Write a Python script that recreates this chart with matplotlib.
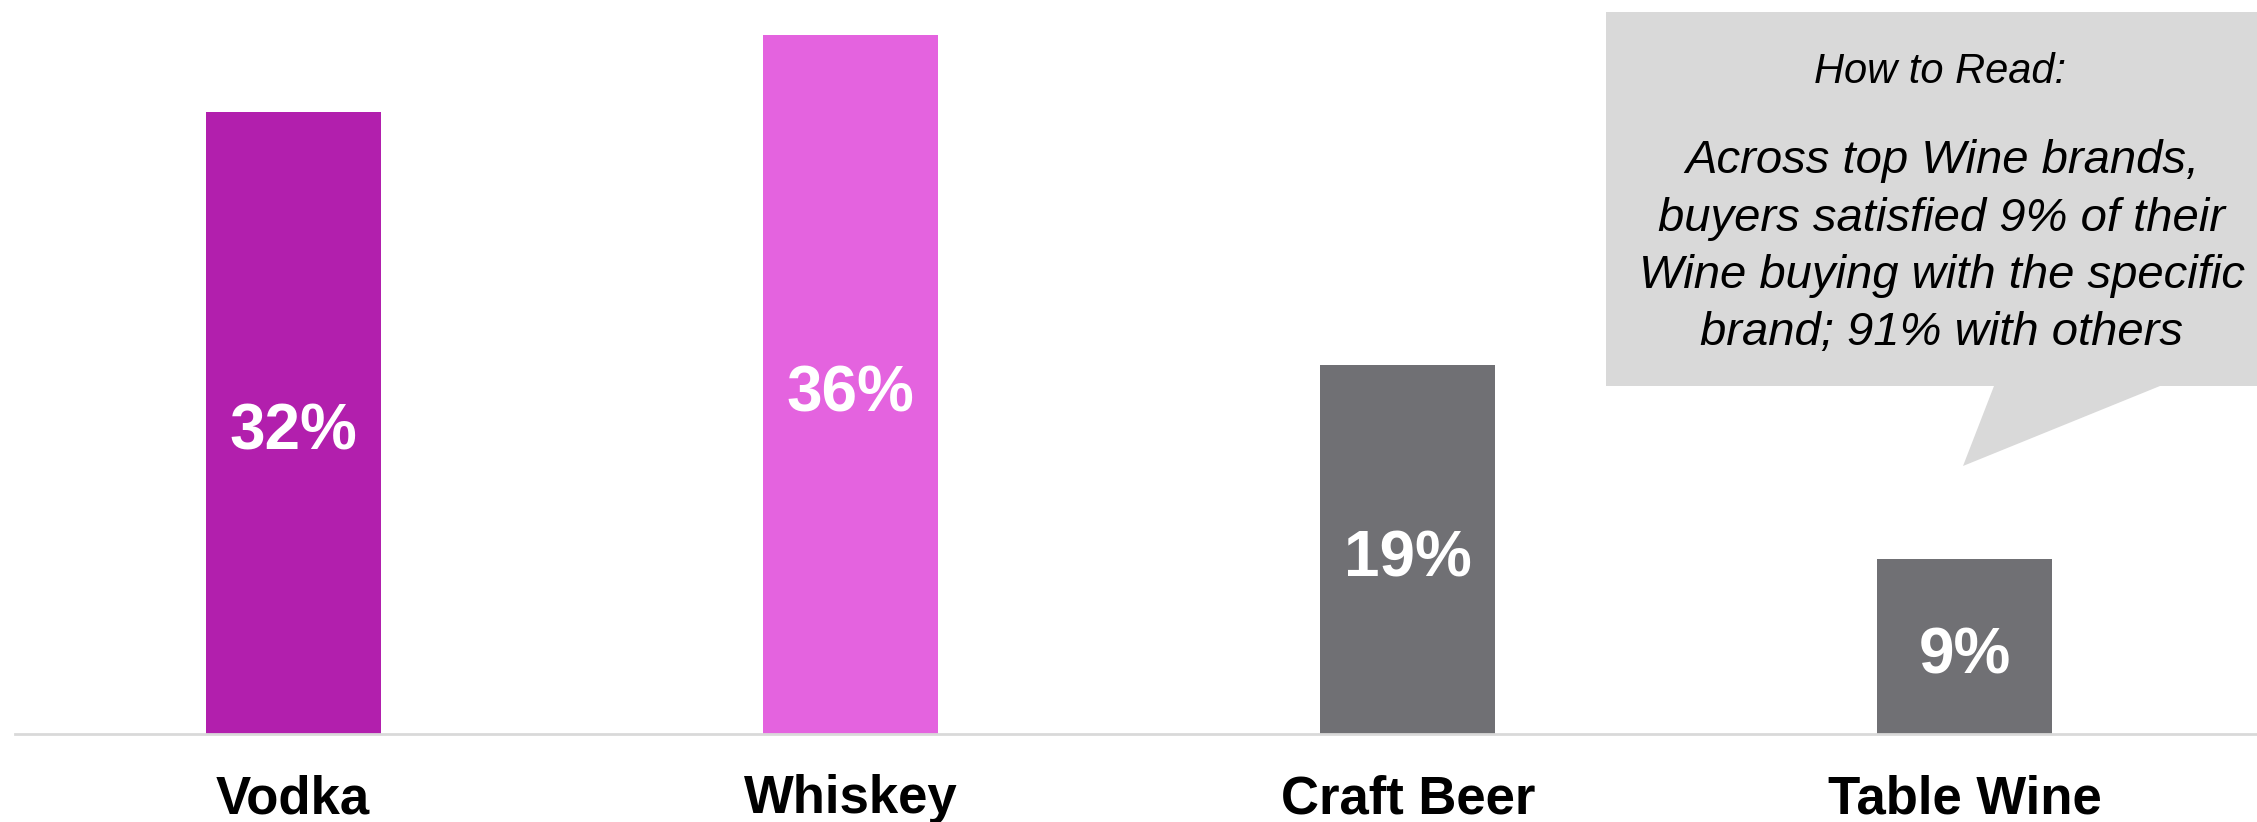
import matplotlib
matplotlib.use("Agg")
import matplotlib.pyplot as plt
from matplotlib.patches import Polygon

plt.rcParams['font.family'] = ['Liberation Sans', 'DejaVu Sans']

# data
categories = ["Vodka", "Whiskey", "Craft Beer", "Table Wine"]
shares = [32, 36, 19, 9]
bar_colors = ["#B21FAD", "#E463DF", "#707074", "#707074"]
note_title = "How to Read:"
note_lines = ["Across top Wine brands,",
              "buyers satisfied 9% of their",
              "Wine buying with the specific",
              "brand; 91% with others"]

W, H = 2257, 822
fig = plt.figure(figsize=(W / 100, H / 100), dpi=100)
ax = fig.add_axes([0, 88 / H, 1, 1 - 88 / H])

x = list(range(len(categories)))
ax.bar(x, shares, width=0.314, color=bar_colors)
for xi, v in zip(x, shares):
    ax.annotate(f"{v}%", (xi, v / 2), xytext=(0, -7), textcoords="offset points",
                ha="center", va="center", color="white",
                fontsize=46, fontweight="bold")

ax.set_xlim(-0.526, 3.524)
ax.set_ylim(0, 37.78)
ax.axhline(0, xmin=15 / W, xmax=1, color="#d9d9d9", lw=2, clip_on=False)
for s in ax.spines.values():
    s.set_visible(False)
ax.set_yticks([])
ax.set_xticks(x)
ax.set_xticklabels(categories, fontsize=38, fontweight="bold")
ax.tick_params(axis="x", length=0, pad=29)

# callout box with pointer (pixel coords from top-left)
pts = [(1606, 12), (W, 12), (W, 386), (2160, 386), (1963, 466),
       (1994, 386), (1606, 386)]
poly = Polygon([(px / W, 1 - py / H) for px, py in pts], closed=True,
               transform=fig.transFigure, facecolor="#d9d9d9",
               edgecolor="none")
fig.patches.append(poly)

fig.text(1940 / W, 1 - 83 / H, note_title, ha="center", va="baseline",
         fontsize=30, style="italic")
for line, by in zip(note_lines, [173, 231, 288, 345]):
    fig.text(1942 / W, 1 - by / H, line, ha="center", va="baseline",
             fontsize=34, style="italic")

fig.savefig("out.png", dpi=100)
